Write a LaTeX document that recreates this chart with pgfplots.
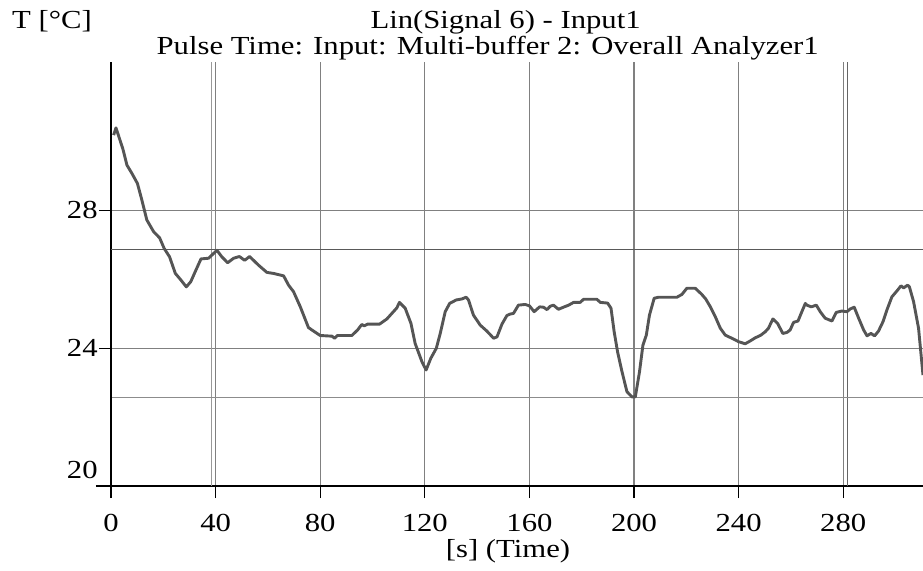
\documentclass[border=0pt]{standalone}
\usepackage{pgfplots}
\pgfplotsset{compat=1.18}
\usepackage{fontspec}
\setmainfont[FakeStretch=1.18]{Liberation Serif}
\definecolor{curve}{HTML}{555555}
\pgfplotstableread{
t v
1.0 30.18
1.9 30.39
4.5 29.79
6.1 29.31
8.0 29.07
10.1 28.78
11.8 28.30
13.7 27.72
16.3 27.38
18.6 27.20
20.3 26.90
22.4 26.65
24.6 26.17
26.5 26.00
28.8 25.78
30.5 25.93
32.2 26.22
34.4 26.59
37.3 26.61
40.5 26.84
42.4 26.65
44.6 26.48
46.9 26.61
49.1 26.66
51.1 26.55
53.0 26.66
56.4 26.41
59.6 26.20
62.1 26.17
66.0 26.10
67.9 25.83
69.8 25.64
72.4 25.20
75.5 24.60
77.4 24.50
80.0 24.37
84.5 24.35
85.5 24.29
86.6 24.37
92.1 24.37
94.3 24.53
95.9 24.69
96.8 24.65
98.1 24.70
102.7 24.70
105.5 24.85
107.4 25.01
109.3 25.17
110.3 25.33
112.5 25.16
114.7 24.72
116.3 24.14
118.9 23.61
120.5 23.37
122.3 23.71
124.4 24.00
125.9 24.43
127.8 25.06
129.5 25.30
132.0 25.40
134.2 25.43
135.8 25.48
136.7 25.40
138.6 24.96
141.2 24.67
143.7 24.50
146.3 24.29
147.6 24.33
149.5 24.70
151.4 24.95
152.6 24.99
153.9 25.01
155.8 25.25
158.4 25.27
160.0 25.23
161.8 25.06
163.9 25.20
165.4 25.19
166.7 25.12
168.0 25.22
169.2 25.25
171.1 25.13
173.0 25.19
175.0 25.25
176.9 25.33
179.4 25.33
180.7 25.42
185.8 25.42
187.1 25.33
189.9 25.31
191.2 25.16
192.4 24.48
193.7 23.90
195.4 23.32
197.3 22.74
199.2 22.59
200.5 22.59
202.1 23.32
203.4 24.09
204.7 24.38
205.9 24.96
207.7 25.45
209.4 25.48
216.4 25.48
218.3 25.56
220.2 25.74
223.4 25.74
225.8 25.57
227.4 25.43
229.2 25.20
231.1 24.91
233.0 24.58
234.9 24.38
237.4 24.29
240.0 24.19
242.5 24.13
244.4 24.21
246.3 24.30
248.5 24.38
250.2 24.48
251.4 24.58
253.1 24.85
254.9 24.72
256.9 24.43
258.5 24.46
259.7 24.53
261.0 24.75
262.7 24.79
263.9 25.01
265.5 25.30
266.1 25.25
267.8 25.20
269.7 25.25
271.2 25.06
273.1 24.87
275.7 24.79
277.3 25.04
279.5 25.08
281.4 25.06
282.7 25.14
284.2 25.19
285.9 24.87
287.8 24.53
289.1 24.36
290.6 24.43
292.0 24.36
293.5 24.50
295.2 24.77
296.7 25.11
298.6 25.49
300.5 25.66
302.1 25.81
303.1 25.75
304.6 25.83
305.3 25.78
306.9 25.35
308.8 24.58
310.5 23.22
}\tempdata
\begin{document}
\fontsize{13}{15.6}\selectfont
\begin{tikzpicture}
\path[use as bounding box] (0,0) rectangle (461.5pt,285pt);
\begin{axis}[
  at={(55.5pt,41.9pt)}, anchor=south west,
  width=406pt, height=212.1pt, scale only axis,
  xmin=0, xmax=310.5, ymin=20, ymax=32.3,
  axis x line=bottom, axis y line=left,
  axis line style={-, black, line width=0.75pt},
  x axis line style={shorten <=-7.5pt},
  xtick={0,40,...,280}, ytick={24,28},
  extra y ticks={20},
  extra y tick style={grid=none, yticklabel style={yshift=8pt}},
  tick align=outside, major tick length=6pt,
  tick style={black, line width=0.6pt},
  grid=major,
  major grid style={draw=black!50, line width=0.55pt},
  /pgf/number format/assume math mode=true,
  ticklabel style={font=\fontsize{13}{15.6}\selectfont},
  xticklabel style={anchor=base, inner sep=0pt, yshift=-16.8pt},
  yticklabel style={anchor=east, inner sep=0pt, xshift=-0.5pt},
  clip=true,
]
\draw[black!40, line width=0.55pt] (axis cs:38.3,20) -- (axis cs:38.3,32.3);
\draw[black!60, line width=0.55pt] (axis cs:281.5,20) -- (axis cs:281.5,32.3);
\draw[black!65, line width=0.55pt] (axis cs:0,26.86) -- (axis cs:310.5,26.86);
\draw[black!45, line width=0.75pt] (axis cs:0.5,22.57) -- (axis cs:310.5,22.57);
\addplot[curve, line width=1.45pt, line join=round] table[x=t, y=v] {\tempdata};
\end{axis}
\node[anchor=base, inner sep=0pt] at (252.8pt,271pt) {Lin(Signal 6) - Input1};
\node[anchor=base, inner sep=0pt] at (243.85pt,257.7pt) {Pulse Time: Input: Multi-buffer 2: Overall Analyzer1};
\node[anchor=base west, inner sep=0pt] at (5.9pt,271pt) {T [°C]};
\node[anchor=base, inner sep=0pt] at (254pt,6.4pt) {[s] (Time)};
\end{tikzpicture}
\end{document}
